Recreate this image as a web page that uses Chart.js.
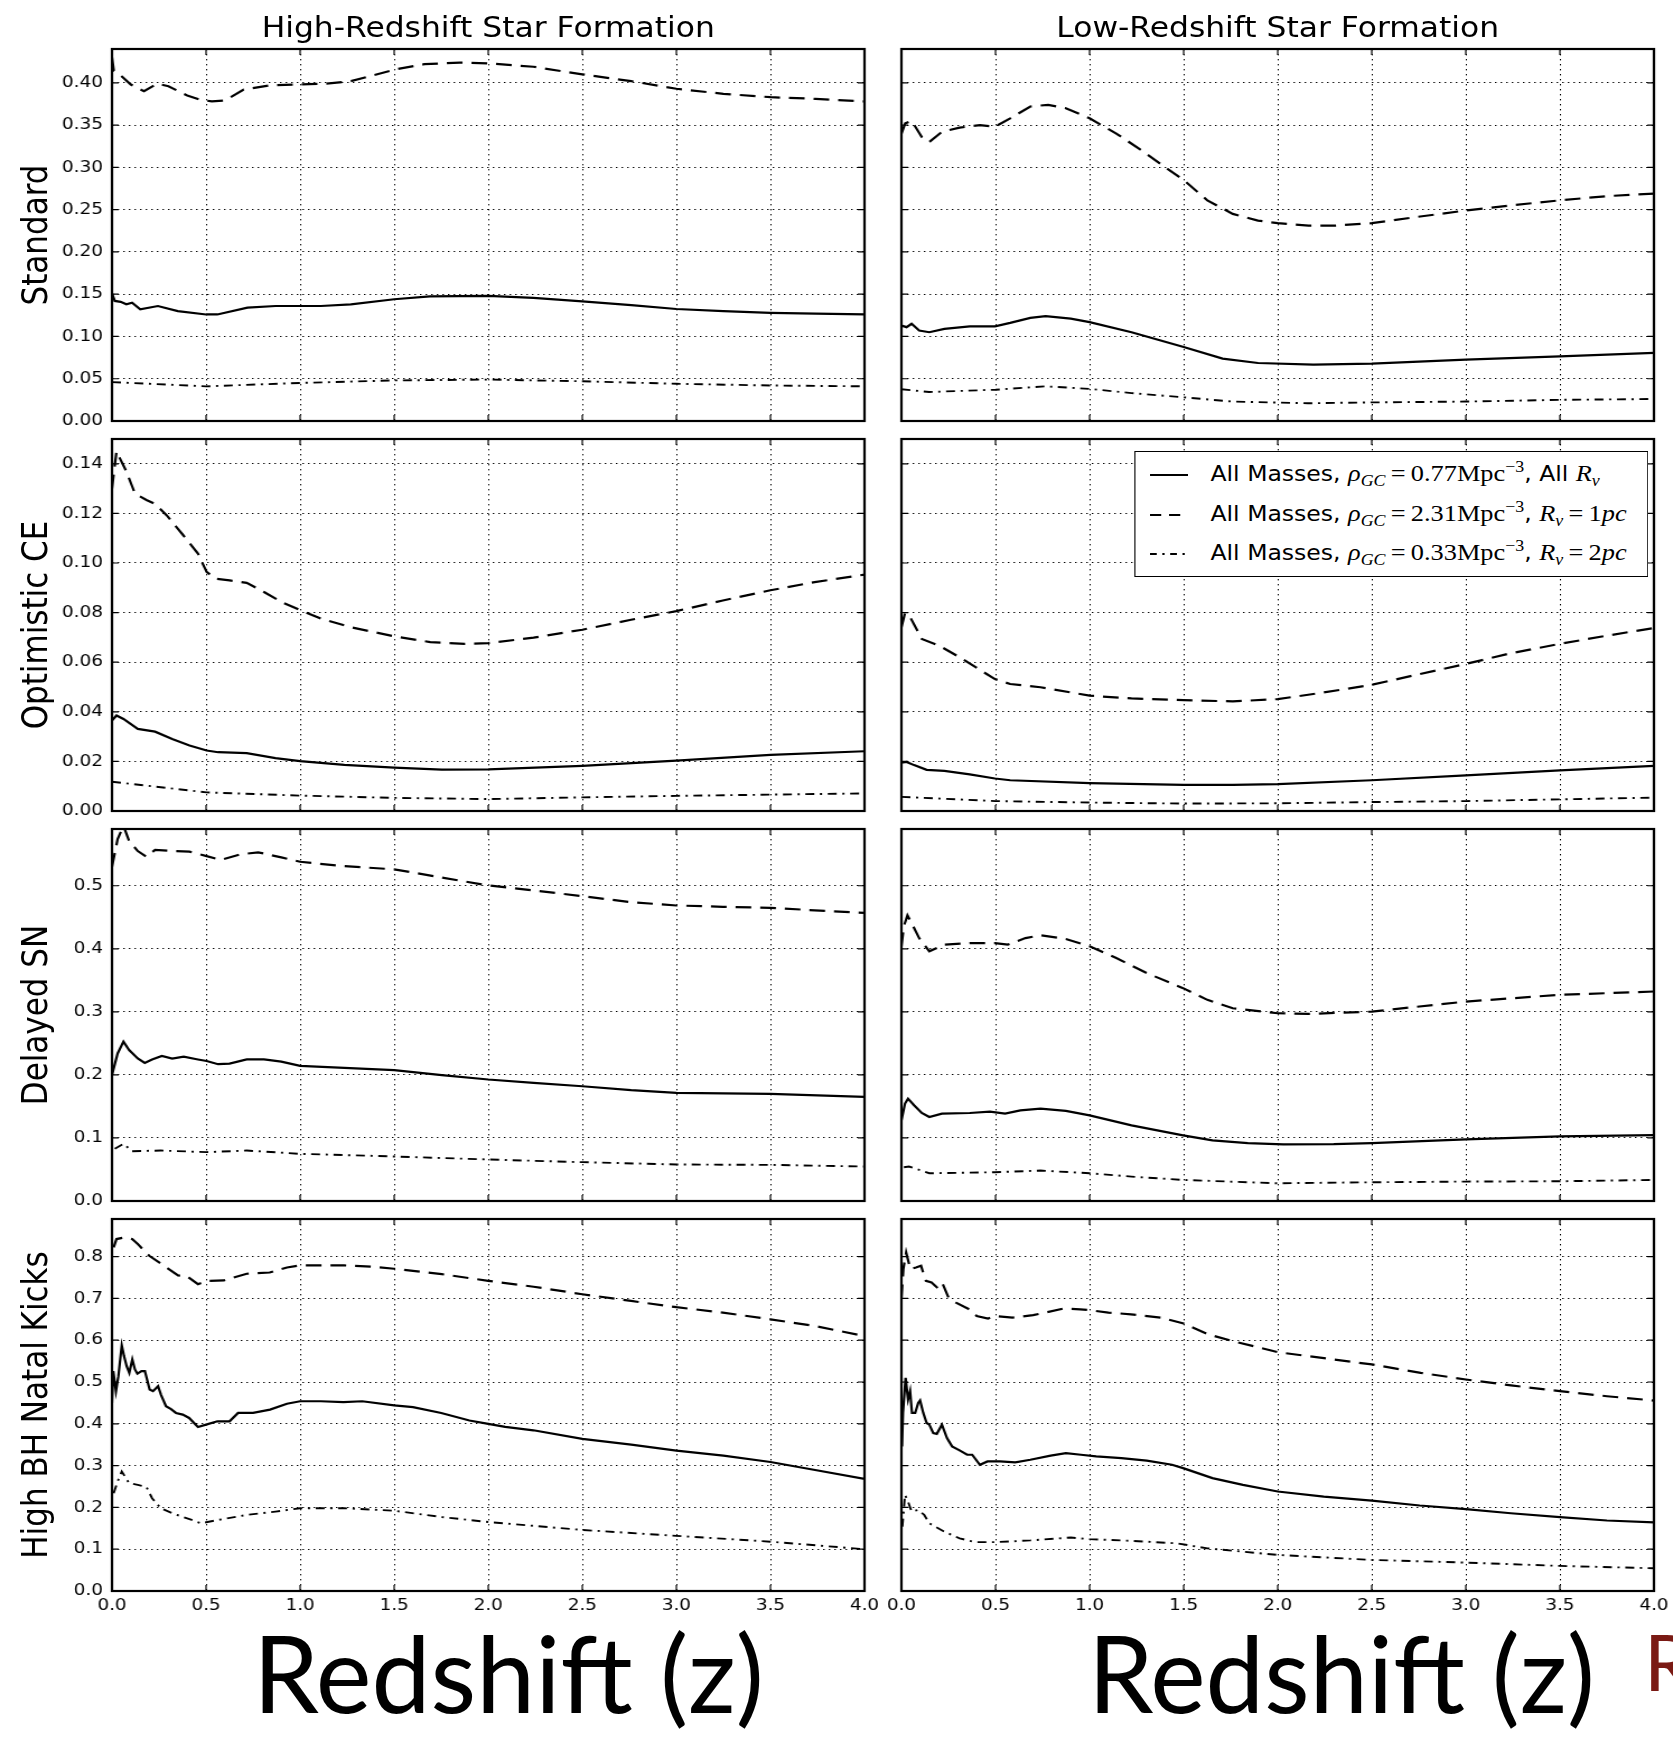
<!DOCTYPE html>
<html>
<head>
<meta charset="utf-8">
<script src="https://cdn.jsdelivr.net/npm/chart.js@4.4.1/dist/chart.umd.min.js"></script>
<style>
  html, body { margin: 0; padding: 0; width: 1673px; height: 1737px; overflow: hidden; background: #fff; }
  #fig { position: absolute; left: 0; top: 0; width: 1494px; height: 1737px;
         transform: scaleX(1.1198); transform-origin: 0 0; }
  canvas.panel { position: absolute; }
  .title { position: absolute; top: 11px; font: 28px 'DejaVu Sans'; white-space: nowrap;
           transform: translateX(-50%); color: #000; }
  .ylab { position: absolute; font: 31px 'DejaVu Sans'; white-space: nowrap; color: #000;
          transform: translate(-50%, -50%) rotate(-90deg); }
  #legend { position: absolute; left: 1013px; top: 451px; width: 459px; height: 126px;
            box-sizing: border-box; border: 1.6px solid #000; background: #fff; }
  #legend .row { position: absolute; left: 0; height: 30px; line-height: 30px; white-space: nowrap; }
  #legend svg { position: absolute; left: 13px; top: 13px; }
  #legend .txt { position: absolute; left: 67px; top: 0; font: 21px 'DejaVu Sans'; color: #000; }
  #legend .m { font-family: 'Liberation Serif'; font-size: 23.5px; }
  #legend sub { font-size: 0.68em; vertical-align: -0.3em; line-height: 0; }
  #legend sup { font-size: 0.68em; vertical-align: 0.55em; line-height: 0; }
  .big { position: absolute; font-family: 'Lato'; white-space: nowrap; line-height: 1; transform-origin: 0 0; }
</style>
</head>
<body>
<div id="fig"></div>
<div id="bigLeft" class="big" style="left:253px; top:1618px; font-size:107px; color:#000;">Redshift (z)</div>
<div id="bigRight" class="big" style="left:1088px; top:1618px; font-size:107px; color:#000;">Redshift (z)</div>
<div class="big" style="left:1644px; top:1622px; font-size:78px; color:#7a1a14;">R</div>
<script>
// ---------------- labels and ticks ----------------
const colTitles = ['High-Redshift Star Formation', 'Low-Redshift Star Formation'];
const rowLabels = ['Standard', 'Optimistic CE', 'Delayed SN', 'High BH Natal Kicks'];
const zTicks = [0, 0.5, 1.0, 1.5, 2.0, 2.5, 3.0, 3.5, 4.0];
const yTicksStd = [0, 0.05, 0.10, 0.15, 0.20, 0.25, 0.30, 0.35, 0.40];
const yTicksOpt = [0, 0.02, 0.04, 0.06, 0.08, 0.10, 0.12, 0.14];
const yTicksDel = [0, 0.1, 0.2, 0.3, 0.4, 0.5];
const yTicksKick = [0, 0.1, 0.2, 0.3, 0.4, 0.5, 0.6, 0.7, 0.8];
const yMaxByRow = [0.44, 0.15, 0.59, 0.89];
const yDecimalsByRow = [2, 2, 1, 1];

// ---------------- Standard ----------------
const zStdHiSolid = [0, 0.015, 0.046, 0.076, 0.107, 0.15, 0.244, 0.35, 0.5, 0.56, 0.72, 0.87, 1.0, 1.11, 1.27, 1.5, 1.69, 2.0, 2.24, 2.5, 2.76, 3.0, 3.25, 3.5, 3.74, 4.0];
const vStdHiSolid = [0.151, 0.142, 0.141, 0.138, 0.140, 0.132, 0.136, 0.130, 0.126, 0.126, 0.134, 0.136, 0.136, 0.136, 0.138, 0.144, 0.1475, 0.148, 0.1456, 0.1416, 0.137, 0.1325, 0.130, 0.128, 0.127, 0.126];
const zStdHiDash = [0, 0.01, 0.04, 0.1, 0.17, 0.24, 0.3, 0.4, 0.47, 0.53, 0.6, 0.7, 0.84, 1.0, 1.14, 1.27, 1.39, 1.51, 1.66, 1.85, 2.0, 2.24, 2.5, 2.76, 3.0, 3.25, 3.5, 3.74, 4.0];
const vStdHiDash = [0.43, 0.414, 0.41, 0.398, 0.39, 0.399, 0.396, 0.385, 0.38, 0.378, 0.379, 0.392, 0.397, 0.398, 0.399, 0.402, 0.409, 0.416, 0.422, 0.424, 0.423, 0.419, 0.41, 0.402, 0.393, 0.387, 0.383, 0.381, 0.378];
const zStdHiDDot = [0, 0.2, 0.5, 1.0, 1.5, 2.0, 2.5, 3.0, 3.5, 4.0];
const vStdHiDDot = [0.046, 0.044, 0.041, 0.045, 0.048, 0.049, 0.047, 0.044, 0.042, 0.041];

const zStdLoSolid = [0, 0.027, 0.054, 0.094, 0.148, 0.228, 0.363, 0.497, 0.578, 0.685, 0.766, 0.9, 1.0, 1.223, 1.5, 1.707, 1.895, 2.19, 2.5, 3.0, 3.5, 4.0];
const vStdLoSolid = [0.113, 0.111, 0.115, 0.107, 0.105, 0.109, 0.112, 0.112, 0.116, 0.122, 0.124, 0.121, 0.117, 0.105, 0.0876, 0.0738, 0.0686, 0.0667, 0.0679, 0.0726, 0.0765, 0.0805];
const zStdLoDash = [0, 0.02, 0.054, 0.108, 0.148, 0.215, 0.309, 0.417, 0.497, 0.578, 0.685, 0.78, 0.874, 1.0, 1.142, 1.277, 1.384, 1.5, 1.626, 1.761, 1.895, 2.0, 2.164, 2.298, 2.5, 2.728, 3.0, 3.239, 3.5, 3.75, 4.0];
const vStdLoDash = [0.34, 0.352, 0.355, 0.336, 0.330, 0.342, 0.347, 0.350, 0.348, 0.358, 0.372, 0.374, 0.370, 0.358, 0.340, 0.320, 0.303, 0.285, 0.261, 0.245, 0.237, 0.234, 0.231, 0.231, 0.234, 0.241, 0.249, 0.255, 0.261, 0.266, 0.269];
const zStdLoDDot = [0, 0.148, 0.5, 0.766, 1.0, 1.223, 1.5, 1.76, 2.16, 2.5, 3.0, 3.5, 4.0];
const vStdLoDDot = [0.0375, 0.0343, 0.037, 0.041, 0.038, 0.033, 0.028, 0.023, 0.021, 0.022, 0.023, 0.025, 0.026];

// ---------------- Optimistic CE ----------------
const zOptHiSolid = [0, 0.024, 0.061, 0.137, 0.229, 0.32, 0.412, 0.503, 0.564, 0.716, 0.869, 1.0, 1.235, 1.5, 1.753, 2.0, 2.5, 3.0, 3.5, 4.0];
const vOptHiSolid = [0.0365, 0.0385, 0.0371, 0.0331, 0.032, 0.029, 0.0264, 0.0244, 0.0237, 0.0233, 0.0213, 0.0201, 0.0186, 0.0175, 0.0167, 0.0168, 0.0182, 0.0203, 0.0226, 0.0241];
const zOptHiDash = [0, 0.024, 0.046, 0.076, 0.122, 0.183, 0.229, 0.29, 0.381, 0.457, 0.503, 0.549, 0.625, 0.716, 0.808, 0.9, 1.0, 1.113, 1.265, 1.5, 1.692, 1.875, 2.0, 2.241, 2.5, 2.759, 3.0, 3.247, 3.5, 3.735, 4.0];
const vOptHiDash = [0.13, 0.145, 0.1416, 0.137, 0.128, 0.1254, 0.1238, 0.1193, 0.111, 0.1038, 0.0964, 0.0937, 0.093, 0.092, 0.0883, 0.0843, 0.081, 0.0775, 0.0742, 0.0704, 0.0681, 0.0674, 0.0677, 0.0699, 0.0731, 0.0771, 0.0806, 0.0849, 0.089, 0.0923, 0.0953];
const zOptHiDDot = [0, 0.259, 0.503, 1.0, 1.5, 2.0, 2.5, 3.0, 3.5, 4.0];
const vOptHiDDot = [0.0118, 0.0096, 0.0075, 0.0062, 0.0053, 0.0048, 0.0055, 0.0061, 0.0066, 0.0071];

const zOptLoSolid = [0, 0.027, 0.067, 0.134, 0.228, 0.363, 0.497, 0.578, 1.0, 1.5, 1.761, 2.0, 2.5, 3.0, 3.5, 4.0];
const vOptLoSolid = [0.0195, 0.0198, 0.0185, 0.0166, 0.0162, 0.0148, 0.0131, 0.0124, 0.0112, 0.0105, 0.0105, 0.0108, 0.0124, 0.0144, 0.0164, 0.0182];
const zOptLoDash = [0, 0.019, 0.046, 0.108, 0.2, 0.309, 0.417, 0.497, 0.578, 0.739, 1.0, 1.223, 1.5, 1.761, 2.0, 2.245, 2.5, 2.755, 3.0, 3.239, 3.5, 3.75, 4.0];
const vOptLoDash = [0.0741, 0.0798, 0.0782, 0.0694, 0.0667, 0.062, 0.0569, 0.0532, 0.0512, 0.0499, 0.0465, 0.0454, 0.0447, 0.0442, 0.0451, 0.0478, 0.0509, 0.0552, 0.0593, 0.0636, 0.0674, 0.0707, 0.0738];
const zOptLoDDot = [0, 0.5, 1.0, 1.5, 2.0, 2.5, 3.0, 3.5, 4.0];
const vOptLoDDot = [0.0057, 0.004, 0.0034, 0.003, 0.0031, 0.0036, 0.004, 0.0047, 0.0054];

// ---------------- Delayed SN ----------------
const zDelHiSolid = [0, 0.03, 0.061, 0.091, 0.137, 0.174, 0.213, 0.265, 0.32, 0.381, 0.457, 0.503, 0.564, 0.625, 0.716, 0.808, 0.9, 1.0, 1.235, 1.5, 1.753, 2.0, 2.241, 2.5, 2.759, 3.0, 3.5, 4.0];
const vDelHiSolid = [0.2, 0.234, 0.2527, 0.2394, 0.226, 0.219, 0.2245, 0.23, 0.226, 0.229, 0.2245, 0.222, 0.217, 0.218, 0.2245, 0.2245, 0.221, 0.2144, 0.211, 0.2075, 0.1996, 0.1927, 0.1874, 0.182, 0.1757, 0.1714, 0.1699, 0.165];
const zDelHiDash = [0, 0.03, 0.061, 0.091, 0.137, 0.183, 0.229, 0.32, 0.412, 0.503, 0.579, 0.686, 0.777, 0.9, 1.0, 1.235, 1.5, 1.753, 2.0, 2.241, 2.5, 2.759, 3.0, 3.247, 3.5, 3.735, 4.0];
const vDelHiDash = [0.53, 0.574, 0.595, 0.571, 0.555, 0.546, 0.557, 0.555, 0.554, 0.547, 0.541, 0.55, 0.553, 0.545, 0.538, 0.531, 0.526, 0.513, 0.5005, 0.4926, 0.4835, 0.474, 0.4687, 0.4666, 0.465, 0.461, 0.457];
const zDelHiDDot = [0.015, 0.061, 0.107, 0.259, 0.503, 0.716, 1.0, 1.5, 2.0, 2.5, 3.0, 3.5, 4.0];
const vDelHiDDot = [0.0828, 0.0908, 0.079, 0.080, 0.0775, 0.080, 0.0748, 0.0706, 0.0658, 0.0616, 0.0579, 0.0573, 0.0547];

const zDelLoSolid = [0, 0.019, 0.035, 0.067, 0.108, 0.148, 0.215, 0.363, 0.47, 0.551, 0.632, 0.739, 0.874, 1.0, 1.223, 1.497, 1.653, 1.841, 2.03, 2.298, 2.5, 3.0, 3.5, 4.0];
const vDelLoSolid = [0.128, 0.1545, 0.1624, 0.1518, 0.1396, 0.1332, 0.1385, 0.1396, 0.1417, 0.1385, 0.1438, 0.1465, 0.1428, 0.1359, 0.12, 0.104, 0.0961, 0.0918, 0.0897, 0.0902, 0.0918, 0.0977, 0.1024, 0.1046];
const zDelLoDash = [0, 0.013, 0.032, 0.054, 0.094, 0.148, 0.228, 0.363, 0.497, 0.565, 0.659, 0.739, 0.874, 1.0, 1.142, 1.304, 1.497, 1.626, 1.761, 2.0, 2.164, 2.5, 3.0, 3.5, 4.0];
const vDelLoDash = [0.404, 0.436, 0.453, 0.441, 0.417, 0.396, 0.4066, 0.409, 0.409, 0.4066, 0.417, 0.4214, 0.4156, 0.404, 0.3853, 0.3615, 0.3376, 0.319, 0.3057, 0.2978, 0.2967, 0.3004, 0.3163, 0.327, 0.3323];
const zDelLoDDot = [0.013, 0.04, 0.148, 0.497, 0.739, 1.0, 1.223, 1.497, 2.0, 2.5, 3.0, 3.5, 4.0];
const vDelLoDDot = [0.0536, 0.0547, 0.044, 0.0456, 0.0483, 0.044, 0.0387, 0.0334, 0.0281, 0.0297, 0.0308, 0.0313, 0.0334];

// ---------------- High BH Natal Kicks ----------------
const zKickHiSolid = [0, 0.007, 0.021, 0.034, 0.052, 0.064, 0.078, 0.092, 0.108, 0.122, 0.135, 0.157, 0.175, 0.2, 0.218, 0.245, 0.26, 0.287, 0.314, 0.34, 0.376, 0.41, 0.457, 0.5, 0.56, 0.625, 0.67, 0.75, 0.84, 0.93, 1.0, 1.11, 1.23, 1.33, 1.5, 1.6, 1.75, 1.9, 2.0, 2.09, 2.24, 2.5, 2.76, 3.0, 3.25, 3.5, 3.73, 4.0];
const vKickHiSolid = [0.45, 0.526, 0.478, 0.514, 0.5875, 0.562, 0.538, 0.522, 0.554, 0.530, 0.520, 0.526, 0.526, 0.482, 0.478, 0.49, 0.47, 0.442, 0.435, 0.426, 0.422, 0.414, 0.3925, 0.398, 0.406, 0.406, 0.426, 0.426, 0.434, 0.448, 0.454, 0.454, 0.452, 0.454, 0.444, 0.44, 0.426, 0.408, 0.40, 0.3925, 0.3845, 0.364, 0.350, 0.336, 0.324, 0.3086, 0.290, 0.268];
const zKickHiDash = [0.009, 0.024, 0.07, 0.107, 0.137, 0.198, 0.274, 0.351, 0.396, 0.457, 0.503, 0.595, 0.716, 0.838, 0.93, 1.0, 1.235, 1.387, 1.5, 1.753, 2.0, 2.241, 2.5, 2.759, 3.0, 3.247, 3.5, 3.735, 4.0];
const vKickHiDash = [0.822, 0.842, 0.846, 0.842, 0.83, 0.802, 0.779, 0.755, 0.754, 0.734, 0.742, 0.743, 0.759, 0.762, 0.774, 0.779, 0.779, 0.776, 0.771, 0.758, 0.742, 0.728, 0.71, 0.694, 0.679, 0.666, 0.65, 0.634, 0.61];
const zKickHiDDot = [0.009, 0.03, 0.052, 0.091, 0.137, 0.183, 0.213, 0.259, 0.32, 0.412, 0.473, 0.564, 0.716, 0.869, 1.0, 1.235, 1.5, 1.753, 2.0, 2.5, 3.0, 3.5, 4.0];
const vKickHiDDot = [0.234, 0.262, 0.286, 0.258, 0.254, 0.249, 0.222, 0.198, 0.186, 0.172, 0.162, 0.170, 0.182, 0.19, 0.198, 0.198, 0.192, 0.177, 0.165, 0.146, 0.132, 0.118, 0.10];

const zKickLoSolid = [0.003, 0.008, 0.022, 0.035, 0.046, 0.056, 0.073, 0.089, 0.099, 0.116, 0.134, 0.148, 0.169, 0.188, 0.215, 0.242, 0.269, 0.309, 0.349, 0.376, 0.417, 0.457, 0.524, 0.605, 0.685, 0.793, 0.874, 0.954, 1.035, 1.169, 1.304, 1.438, 1.497, 1.653, 1.815, 2.0, 2.245, 2.5, 2.755, 3.0, 3.239, 3.5, 3.75, 4.0];
const vKickLoSolid = [0.346, 0.426, 0.51, 0.458, 0.478, 0.426, 0.426, 0.45, 0.456, 0.426, 0.402, 0.398, 0.378, 0.376, 0.398, 0.366, 0.346, 0.3365, 0.326, 0.326, 0.302, 0.31, 0.31, 0.3078, 0.314, 0.324, 0.33, 0.326, 0.322, 0.318, 0.312, 0.302, 0.294, 0.27, 0.254, 0.238, 0.226, 0.216, 0.2046, 0.196, 0.186, 0.1767, 0.1687, 0.164];
const zKickLoDash = [0, 0.01, 0.025, 0.036, 0.048, 0.077, 0.104, 0.13, 0.16, 0.2, 0.22, 0.25, 0.29, 0.36, 0.4, 0.46, 0.5, 0.59, 0.7, 0.86, 0.95, 1.0, 1.1, 1.22, 1.38, 1.5, 1.63, 1.76, 2.0, 2.16, 2.5, 2.76, 3.0, 3.24, 3.5, 3.75, 4.0];
const vKickLoDash = [0.70, 0.77, 0.81, 0.79, 0.77, 0.774, 0.778, 0.742, 0.738, 0.722, 0.734, 0.702, 0.69, 0.674, 0.658, 0.652, 0.658, 0.654, 0.66, 0.6755, 0.674, 0.672, 0.666, 0.662, 0.654, 0.640, 0.614, 0.598, 0.5715, 0.562, 0.542, 0.522, 0.506, 0.492, 0.478, 0.466, 0.4556];
const zKickLoDDot = [0.005, 0.019, 0.035, 0.054, 0.089, 0.121, 0.148, 0.228, 0.309, 0.39, 0.497, 0.685, 0.9, 1.0, 1.223, 1.465, 1.626, 2.0, 2.5, 3.0, 3.5, 4.0];
const vKickLoDDot = [0.154, 0.23, 0.214, 0.19, 0.194, 0.182, 0.162, 0.142, 0.126, 0.117, 0.117, 0.121, 0.128, 0.124, 0.12, 0.114, 0.102, 0.0863, 0.0743, 0.068, 0.06, 0.0544];

// ---------------- layout (pre-stretch coordinates) ----------------
const plotLefts = [100, 805];
const plotTops = [49, 439, 829, 1219];
const plotW = 672, plotH = 372;
const padL = 100, padT = 30, padR = 40, padB = 34;
const yTicksByRow = [yTicksStd, yTicksOpt, yTicksDel, yTicksKick];

// solid: all Rv, dashed: Rv = 1pc, dash-dot: Rv = 2pc
const lineStyles = [
  { dash: [], width: 2.2 },
  { dash: [14, 8], width: 2.2 },
  { dash: [8, 5, 2, 5], width: 1.9 }
];

const panelSeries = [
  [[[zStdHiSolid, vStdHiSolid], [zStdHiDash, vStdHiDash], [zStdHiDDot, vStdHiDDot]],
   [[zStdLoSolid, vStdLoSolid], [zStdLoDash, vStdLoDash], [zStdLoDDot, vStdLoDDot]]],
  [[[zOptHiSolid, vOptHiSolid], [zOptHiDash, vOptHiDash], [zOptHiDDot, vOptHiDDot]],
   [[zOptLoSolid, vOptLoSolid], [zOptLoDash, vOptLoDash], [zOptLoDDot, vOptLoDDot]]],
  [[[zDelHiSolid, vDelHiSolid], [zDelHiDash, vDelHiDash], [zDelHiDDot, vDelHiDDot]],
   [[zDelLoSolid, vDelLoSolid], [zDelLoDash, vDelLoDash], [zDelLoDDot, vDelLoDDot]]],
  [[[zKickHiSolid, vKickHiSolid], [zKickHiDash, vKickHiDash], [zKickHiDDot, vKickHiDDot]],
   [[zKickLoSolid, vKickLoSolid], [zKickLoDash, vKickLoDash], [zKickLoDDot, vKickLoDDot]]]
];

Chart.defaults.font.family = "'DejaVu Sans'";
Chart.defaults.color = '#000';

// Axes frame plus inward tick marks on all four sides
const frameTicks = {
  id: 'frameTicks',
  afterDatasetsDraw(chart) {
    const { ctx, chartArea: a, scales: { x, y } } = chart;
    const len = 6;
    ctx.save();
    ctx.strokeStyle = '#000';
    ctx.lineWidth = 1.2;
    ctx.beginPath();
    x.ticks.forEach(t => {
      const px = x.getPixelForValue(t.value);
      ctx.moveTo(px, a.bottom); ctx.lineTo(px, a.bottom - len);
      ctx.moveTo(px, a.top); ctx.lineTo(px, a.top + len);
    });
    y.ticks.forEach(t => {
      const py = y.getPixelForValue(t.value);
      ctx.moveTo(a.left, py); ctx.lineTo(a.left + len, py);
      ctx.moveTo(a.right, py); ctx.lineTo(a.right - len, py);
    });
    ctx.stroke();
    ctx.lineWidth = 2.2;
    ctx.strokeRect(a.left, a.top, a.right - a.left, a.bottom - a.top);
    ctx.restore();
  }
};

const fig = document.getElementById('fig');

function makePanel(row, col) {
  const cv = document.createElement('canvas');
  cv.className = 'panel';
  cv.width = plotW + padL + padR;
  cv.height = plotH + padT + padB;
  cv.style.left = (plotLefts[col] - padL) + 'px';
  cv.style.top = (plotTops[row] - padT) + 'px';
  fig.appendChild(cv);

  const yTicks = yTicksByRow[row];
  const dec = yDecimalsByRow[row];
  const datasets = panelSeries[row][col].map(([zs, vs], i) => ({
    data: zs.map((z, j) => ({ x: z, y: vs[j] })),
    borderColor: '#000',
    borderWidth: lineStyles[i].width,
    borderDash: lineStyles[i].dash,
    pointRadius: 0,
    tension: 0,
    fill: false
  }));

  const gridCfg = { color: '#000', lineWidth: 1, drawTicks: false };
  const borderCfg = { display: false, dash: [1.4, 3.6] };

  new Chart(cv, {
    type: 'line',
    data: { datasets },
    options: {
      animation: false,
      responsive: false,
      devicePixelRatio: 1,
      events: [],
      layout: { padding: { top: padT, right: padR, left: 0, bottom: 0 } },
      plugins: { legend: { display: false }, tooltip: { enabled: false } },
      scales: {
        x: {
          type: 'linear', min: 0, max: 4,
          afterBuildTicks: s => { s.ticks = zTicks.map(v => ({ value: v })); },
          afterFit: s => { s.height = padB; },
          ticks: { display: row === 3, autoSkip: false, maxRotation: 0, padding: 5,
                   font: { size: 16.5 }, callback: v => Number(v).toFixed(1) },
          grid: gridCfg, border: borderCfg
        },
        y: {
          type: 'linear', min: 0, max: yMaxByRow[row],
          afterBuildTicks: s => { s.ticks = yTicks.map(v => ({ value: v })); },
          afterFit: s => { s.width = padL; },
          ticks: { display: col === 0, autoSkip: false, padding: 8,
                   font: { size: 16.5 }, callback: v => Number(v).toFixed(dec) },
          grid: gridCfg, border: borderCfg
        }
      }
    },
    plugins: [frameTicks]
  });
}

for (let r = 0; r < 4; r++) for (let c = 0; c < 2; c++) makePanel(r, c);

// column titles
colTitles.forEach((t, c) => {
  const d = document.createElement('div');
  d.className = 'title';
  d.textContent = t;
  d.style.left = (plotLefts[c] + plotW / 2) + 'px';
  fig.appendChild(d);
});

// row labels
rowLabels.forEach((t, r) => {
  const d = document.createElement('div');
  d.className = 'ylab';
  d.textContent = t;
  d.style.left = '31px';
  d.style.top = (plotTops[r] + plotH / 2) + 'px';
  fig.appendChild(d);
});

// legend
const legendRows = [
  { dash: '', width: 2.2, html: 'All Masses, <span class="m"><i>ρ</i><sub><i>GC</i></sub>&#8201;=&#8201;0.77Mpc<sup>−3</sup></span>, All <span class="m"><i>R</i><sub><i>v</i></sub></span>' },
  { dash: '10 7', width: 2.2, html: 'All Masses, <span class="m"><i>ρ</i><sub><i>GC</i></sub>&#8201;=&#8201;2.31Mpc<sup>−3</sup></span>, <span class="m"><i>R</i><sub><i>v</i></sub>&#8201;=&#8201;1<i>pc</i></span>' },
  { dash: '6 5 2 5', width: 1.9, html: 'All Masses, <span class="m"><i>ρ</i><sub><i>GC</i></sub>&#8201;=&#8201;0.33Mpc<sup>−3</sup></span>, <span class="m"><i>R</i><sub><i>v</i></sub>&#8201;=&#8201;2<i>pc</i></span>' }
];
const legendCenters = [23, 63, 102];
const leg = document.createElement('div');
leg.id = 'legend';
legendRows.forEach((lr, i) => {
  const row = document.createElement('div');
  row.className = 'row';
  row.style.top = (legendCenters[i] - 15) + 'px';
  row.innerHTML =
    `<svg width="34" height="4"><line x1="0" y1="2" x2="34" y2="2" stroke="#000" stroke-width="${lr.width}" stroke-dasharray="${lr.dash}"/></svg>` +
    `<span class="txt">${lr.html}</span>`;
  leg.appendChild(row);
});
fig.appendChild(leg);

// size the large axis captions to their spans
[['bigLeft', 511], ['bigRight', 507]].forEach(([id, target]) => {
  const el = document.getElementById(id);
  const w = el.getBoundingClientRect().width;
  el.style.transform = `scaleX(${target / w})`;
});
</script>
</body>
</html>
